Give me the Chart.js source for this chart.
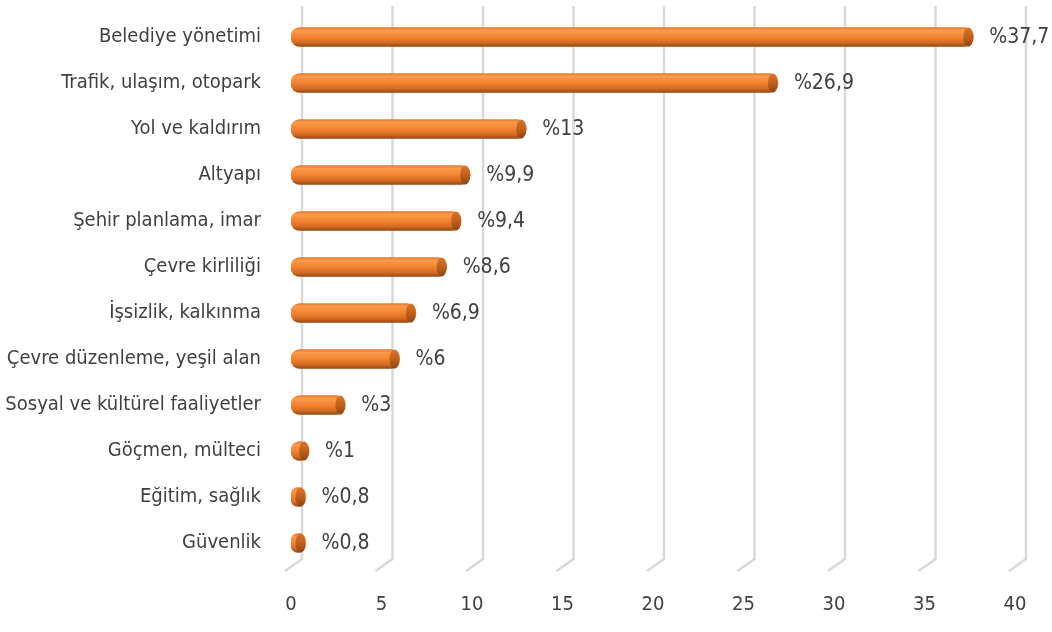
<!DOCTYPE html>
<html>
<head>
<meta charset="utf-8">
<script src="https://cdn.jsdelivr.net/npm/chart.js@4/dist/chart.umd.min.js"></script>
<style>
	html, body { margin: 0; padding: 0; background: #fff; }
	#wrap { width: 1052px; height: 632px; }
</style>
</head>
<body>
<div id="wrap"><canvas id="chart"></canvas></div>
<script>
const categories = [
	'Belediye yönetimi',
	'Trafik, ulaşım, otopark',
	'Yol ve kaldırım',
	'Altyapı',
	'Şehir planlama, imar',
	'Çevre kirliliği',
	'İşsizlik, kalkınma',
	'Çevre düzenleme, yeşil alan',
	'Sosyal ve kültürel faaliyetler',
	'Göçmen, mülteci',
	'Eğitim, sağlık',
	'Güvenlik',
]
const percentages = [37.7, 26.9, 13, 9.9, 9.4, 8.6, 6.9, 6, 3, 1, 0.8, 0.8]
const xTicks = [0, 5, 10, 15, 20, 25, 30, 35, 40]

const FONT = "'Liberation Sans Narrow', 'DejaVu Sans Condensed', 'Roboto', sans-serif"
Chart.defaults.font.family = FONT
Chart.defaults.color = '#404040'

// 3d look: slanted grid lines behind the bars
const gridPlugin = {
	id: 'slantGrid',
	beforeDatasetsDraw(chart) {
		const { ctx, scales: { x }, chartArea } = chart
		ctx.save()
		ctx.strokeStyle = '#d9d9d9'
		ctx.lineWidth = 2.5
		xTicks.forEach(v => {
			const px = x.getPixelForValue(v)
			ctx.beginPath()
			ctx.moveTo(px + 11, chartArea.top - 8)
			ctx.lineTo(px + 11, chartArea.bottom - 7)
			ctx.lineTo(px - 6, chartArea.bottom + 5)
			ctx.stroke()
		})
		ctx.restore()
	},
}

// end caps of the cylinders and the value labels
const capPlugin = {
	id: 'caps',
	afterDatasetsDraw(chart) {
		const { ctx } = chart
		const meta = chart.getDatasetMeta(0)
		ctx.save()
		meta.data.forEach((bar, i) => {
			const h = bar.height
			const rx = Math.min(5, (bar.x - bar.base) / 2)
			const g = ctx.createLinearGradient(0, bar.y - h / 2, 0, bar.y + h / 2)
			g.addColorStop(0, '#d9732a')
			g.addColorStop(0.5, '#c2601c')
			g.addColorStop(1, '#8e4410')
			ctx.fillStyle = g
			ctx.beginPath()
			ctx.ellipse(bar.x - rx, bar.y, rx, h / 2, 0, 0, Math.PI * 2)
			ctx.fill()

			ctx.fillStyle = '#404040'
			ctx.font = '21px ' + FONT
			ctx.textAlign = 'left'
			ctx.textBaseline = 'middle'
			ctx.fillText('%' + String(percentages[i]).replace('.', ','), bar.x + 16, bar.y + 1)
		})
		ctx.restore()
	},
}

const barGradient = context => {
	const chart = context.chart
	const y = chart.scales.y
	if (!y || !chart.chartArea) return '#f08030'
	const cy = y.getPixelForValue(context.dataIndex)
	const g = chart.ctx.createLinearGradient(0, cy - 9.5, 0, cy + 9.5)
	g.addColorStop(0, '#e27a2c')
	g.addColorStop(0.15, '#fb9b4c')
	g.addColorStop(0.5, '#f2842f')
	g.addColorStop(0.8, '#d46b22')
	g.addColorStop(1, '#964812')
	return g
}

new Chart(document.getElementById('chart'), {
	type: 'bar',
	data: {
		labels: categories,
		datasets: [
			{
				data: percentages,
				backgroundColor: barGradient,
				borderWidth: 0,
				borderRadius: 9,
				borderSkipped: false,
				barThickness: 19,
			},
		],
	},
	options: {
		indexAxis: 'y',
		responsive: true,
		maintainAspectRatio: false,
		animation: false,
		layout: { padding: { top: 14, right: 37, left: 0, bottom: 0 } },
		plugins: {
			legend: { display: false },
			tooltip: { enabled: false },
		},
		scales: {
			x: {
				min: 0,
				max: 40,
				afterBuildTicks: scale => {
					scale.ticks = xTicks.map(v => ({ value: v }))
				},
				afterFit: scale => {
					scale.height = 66
					scale.paddingLeft = 0
					scale.paddingRight = 0
				},
				grid: { display: false },
				border: { display: false },
				ticks: {
					padding: 19,
					font: { size: 20 },
					color: '#404040',
				},
			},
			y: {
				afterFit: scale => {
					scale.width = 291
					scale.paddingTop = 0
					scale.paddingBottom = 0
				},
				grid: { display: false },
				border: { display: false },
				ticks: {
					padding: 22,
					font: { size: 20 },
					color: '#404040',
				},
			},
		},
	},
	plugins: [gridPlugin, capPlugin],
})
</script>
</body>
</html>
